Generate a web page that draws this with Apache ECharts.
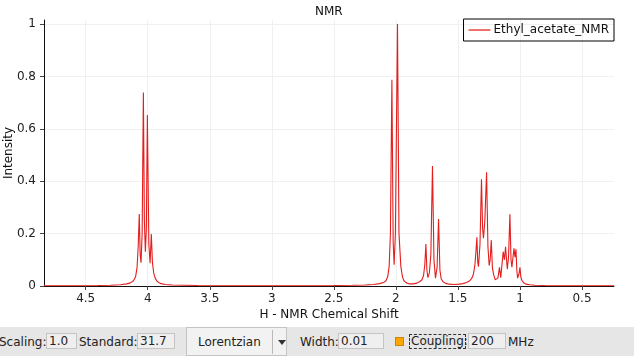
<!DOCTYPE html>
<html><head><meta charset="utf-8">
<script src="https://cdn.jsdelivr.net/npm/echarts@6/dist/echarts.min.js"></script>
<style>
html,body{margin:0;padding:0;background:#fff;overflow:hidden;}
#chart{position:absolute;left:0;top:0;width:634px;height:356px;}
#bar{position:absolute;left:0;top:327px;width:634px;height:29px;background:#e6e6e6;font:12px "DejaVu Sans";color:#222;}
.t{position:absolute;top:8px;white-space:nowrap;line-height:14px;}
.f{position:absolute;top:6px;height:16px;box-sizing:border-box;border:1px solid #c4c4c4;background:#efefef;line-height:14px;padding-left:2px;white-space:nowrap;}
#combo{position:absolute;left:186px;top:0;width:101px;height:29px;box-sizing:border-box;border:1px solid #c4c4c4;background:#f2f2f2;}
#sep{position:absolute;left:85px;top:2px;width:1px;height:24px;background:#b8b8b8;}
#arrow{position:absolute;left:91px;top:12px;width:0;height:0;border-left:4px solid transparent;border-right:4px solid transparent;border-top:5px solid #333;}
#chk{position:absolute;left:395px;top:10px;width:9px;height:9px;box-sizing:border-box;background:#ffa500;border:1px solid #d08400;}
#coup{position:absolute;left:409px;top:7px;width:57px;height:15px;box-sizing:border-box;border:1px dashed #333;line-height:13px;padding-left:1px;white-space:nowrap;}
</style></head><body>
<div id="chart"></div>
<div id="bar">
 <span class="t" style="left:-1px">Scaling:</span>
 <div class="f" style="left:46px;width:31px">1.0</div>
 <span class="t" style="left:79px">Standard:</span>
 <div class="f" style="left:137px;width:38px">31.7</div>
 <div id="combo"><span style="position:absolute;left:11px;top:7px;line-height:14px">Lorentzian</span><div id="sep"></div><div id="arrow"></div></div>
 <span class="t" style="left:300px">Width:</span>
 <div class="f" style="left:338px;width:46px">0.01</div>
 <div id="chk"></div>
 <div id="coup">Coupling:</div>
 <div class="f" style="left:468px;width:38px">200</div>
 <span class="t" style="left:508px">MHz</span>
</div>
<script>
const seriesName = 'Ethyl_acetate_NMR';
const xTicks = [0.5, 1, 1.5, 2, 2.5, 3, 3.5, 4, 4.5];
const yTicks = [0, 0.2, 0.4, 0.6, 0.8, 1];
// chemical shift (ppm) of sampled curve points
const shiftPpm = [
 4.836, 4.6, 4.4, 4.3, 4.22, 4.17, 4.14, 4.115, 4.098, 4.086,
 4.077, 4.068, 4.061, 4.054, 4.045, 4.035, 4.027, 4.019, 4.011, 4.003,
 3.991, 3.981, 3.971, 3.962, 3.952, 3.94, 3.925, 3.9, 3.86, 3.8,
 3.6, 3.2, 2.8, 2.5, 2.35, 2.25, 2.18, 2.13, 2.1, 2.08,
 2.066, 2.054, 2.044, 2.032, 2.022, 2.014, 2.004, 1.987, 1.975, 1.96,
 1.947, 1.935, 1.915, 1.89, 1.86, 1.83, 1.81, 1.79, 1.777, 1.767,
 1.758, 1.75, 1.742, 1.73, 1.718, 1.705, 1.693, 1.681, 1.668, 1.656,
 1.645, 1.635, 1.62, 1.6, 1.57, 1.53, 1.49, 1.46, 1.43, 1.41,
 1.39, 1.375, 1.363, 1.355, 1.347, 1.34, 1.334, 1.322, 1.31, 1.301,
 1.294, 1.283, 1.269, 1.258, 1.248, 1.24, 1.231, 1.222, 1.213, 1.2,
 1.19, 1.178, 1.165, 1.155, 1.148, 1.135, 1.125, 1.116, 1.102, 1.092,
 1.081, 1.072, 1.065, 1.048, 1.04, 1.032, 1.025, 1.019, 1.008, 1.0,
 0.993, 0.985, 0.97, 0.95, 0.92, 0.88, 0.8, 0.65, 0.45, 0.242
];
// intensity of those points
const intensity = [
 0.001, 0.001, 0.002, 0.003, 0.005, 0.008, 0.012, 0.02, 0.035, 0.07,
 0.15, 0.275, 0.12, 0.089, 0.2, 0.739, 0.25, 0.131, 0.22, 0.653,
 0.16, 0.087, 0.198, 0.09, 0.05, 0.03, 0.018, 0.01, 0.006, 0.004,
 0.002, 0.001, 0.001, 0.002, 0.003, 0.004, 0.006, 0.009, 0.013, 0.02,
 0.035, 0.075, 0.2, 0.787, 0.17, 0.081, 0.2, 1.0, 0.2, 0.075,
 0.035, 0.02, 0.012, 0.008, 0.008, 0.011, 0.016, 0.024, 0.04, 0.08,
 0.16, 0.06, 0.032, 0.05, 0.12, 0.458, 0.1, 0.03, 0.07, 0.256,
 0.06, 0.028, 0.016, 0.01, 0.007, 0.006, 0.007, 0.009, 0.013, 0.018,
 0.028, 0.045, 0.08, 0.13, 0.186, 0.09, 0.074, 0.16, 0.407, 0.22,
 0.182, 0.25, 0.434, 0.15, 0.078, 0.1, 0.175, 0.07, 0.045, 0.024,
 0.017, 0.03, 0.071, 0.032, 0.028, 0.131, 0.1, 0.15, 0.064, 0.11,
 0.274, 0.1, 0.072, 0.144, 0.11, 0.14, 0.06, 0.03, 0.045, 0.071,
 0.035, 0.022, 0.012, 0.007, 0.005, 0.003, 0.002, 0.001, 0.001, 0.001
];

const FONT = 'DejaVu Sans';
const chart = echarts.init(document.getElementById('chart'), null, {renderer: 'canvas'});
const data = shiftPpm.map((x, i) => [x, intensity[i]]);
chart.setOption({
  animation: false,
  backgroundColor: 'transparent',
  title: {
    text: 'NMR', left: 315, top: 6, padding: 0,
    textStyle: {fontFamily: FONT, fontSize: 12, fontWeight: 'normal', color: '#111'}
  },
  legend: {
    right: 20, top: 19, padding: [4, 5, 4, 5],
    borderColor: '#000', borderWidth: 1,
    icon: 'rect', itemWidth: 22, itemHeight: 2, itemGap: 5,
    itemStyle: {color: '#ee7272'},
    textStyle: {fontFamily: FONT, fontSize: 12, color: '#111', padding: [0, 0, 0, -2], lineHeight: 14},
    data: [seriesName]
  },
  grid: {left: 44, right: 20, top: 20, bottom: 70, containLabel: false, outerBoundsMode: 'none'},
  xAxis: {
    type: 'value', inverse: true, min: 0.242, max: 4.836, splitNumber: 9, offset: 2,
    name: 'H - NMR Chemical Shift', nameLocation: 'middle', nameGap: 21, nameMoveOverlap: false,
    nameTextStyle: {fontFamily: FONT, fontSize: 12, color: '#111'},
    axisLine: {lineStyle: {color: '#111', width: 1}},
    axisTick: {show: true, length: 4, customValues: xTicks, lineStyle: {color: '#444'}},
    axisLabel: {customValues: xTicks, margin: 5, fontFamily: FONT, fontSize: 12, color: '#222'},
    splitLine: {show: true, lineStyle: {color: '#f0f0f0', width: 1}}
  },
  yAxis: {
    type: 'value', min: 0, max: 1.0153,
    name: 'Intensity', nameLocation: 'middle', nameGap: 29, nameMoveOverlap: false,
    nameTextStyle: {fontFamily: FONT, fontSize: 12, color: '#111'},
    axisLine: {show: true, lineStyle: {color: '#111', width: 1}},
    axisTick: {show: true, length: 4, customValues: yTicks, lineStyle: {color: '#444'}},
    axisLabel: {customValues: yTicks, margin: 8, fontFamily: FONT, fontSize: 12, color: '#222'},
    splitLine: {show: true, lineStyle: {color: '#f0f0f0', width: 1}}
  },
  series: [{
    name: seriesName, type: 'line', data: data,
    showSymbol: false, symbol: 'none', clip: true,
    lineStyle: {color: '#e41d1d', width: 1.1},
    itemStyle: {color: '#e41d1d'}
  }]
});
</script>
</body></html>
